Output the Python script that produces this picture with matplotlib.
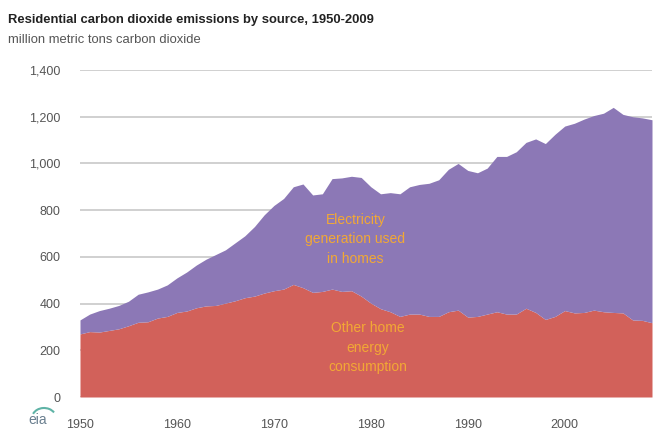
import numpy as np
import matplotlib
matplotlib.use("Agg")
import matplotlib.pyplot as plt
from matplotlib.patches import Arc
from matplotlib.ticker import FuncFormatter

# Werte (Mio. t CO2)
years = list(range(1950, 2010))

other_home = [
    270, 280, 278, 285, 292, 305, 320, 322, 338, 345,
    362, 368, 382, 390, 392, 402, 412, 425, 432, 445,
    455, 462, 482, 468, 448, 452, 462, 452, 455, 432,
    402, 378, 365, 345, 355, 355, 345, 345, 365, 372,
    342, 345, 355, 365, 355, 355, 380, 362, 332, 345,
    370, 360, 362, 372, 365, 362, 360, 330, 328, 318,
]

total = [
    330, 355, 370, 380, 392, 410, 440, 450, 462, 480,
    510, 535, 565, 590, 610, 630, 660, 690, 730, 780,
    820, 850, 900, 912, 865, 870, 935, 938, 945, 940,
    900, 870, 875, 870, 900, 910, 915, 930, 975, 1000,
    970, 960, 980, 1030, 1030, 1050, 1090, 1105, 1085, 1125,
    1160, 1172, 1190, 1205, 1215, 1240, 1210, 1200, 1195, 1187,
]

y_ticks = [0, 200, 400, 600, 800, 1000, 1200, 1400]
x_ticks = [1950, 1960, 1970, 1980, 1990, 2000]

PURPLE = "#8c78b6"
RED = "#d2615a"
LABEL = "#f2a835"
GRAY = "#555555"

plt.rcParams["font.family"] = ["Liberation Sans", "DejaVu Sans"]

fig = plt.figure(figsize=(6.55, 4.32), dpi=100)
ax = fig.add_axes([80 / 655, 1 - 397 / 432, 572 / 655, 327 / 432])

ax.fill_between(years, 0, other_home, color=RED, linewidth=0, zorder=3)
ax.fill_between(years, other_home, total, color=PURPLE, linewidth=0, zorder=3)

ax.set_xlim(1950, 2009)
ax.set_ylim(0, 1400)
ax.set_yticks(y_ticks)
ax.set_xticks(x_ticks)
ax.yaxis.set_major_formatter(FuncFormatter(lambda v, p: f"{int(v):,}"))
ax.grid(axis="y", color="#c8c8c8", linewidth=1.2, zorder=1)
ax.tick_params(axis="both", length=0, labelsize=9, colors=GRAY)
ax.tick_params(axis="y", pad=14)
ax.tick_params(axis="x", pad=16)
for s in ax.spines.values():
    s.set_visible(False)

ax.text(1978.4, 675, "Electricity\ngeneration used\nin homes", ha="center", va="center",
        color=LABEL, fontsize=10, linespacing=1.5, zorder=4)
ax.text(1979.7, 210, "Other home\nenergy\nconsumption", ha="center", va="center",
        color=LABEL, fontsize=10, linespacing=1.5, zorder=4)

fig.text(8 / 655, 1 - 20 / 432, "Residential carbon dioxide emissions by source, 1950-2009",
         fontsize=9.4, fontweight="bold", color="#222222", va="center")
fig.text(8 / 655, 1 - 40 / 432, "million metric tons carbon dioxide",
         fontsize=9.4, color=GRAY, va="center")

# eia-Logo unten links
fig.text(38 / 655, 1 - 420 / 432, "eia", fontsize=10, color="#6a7f8f", va="center",
         ha="center")
fig.add_artist(Arc((44 / 655, 1 - 418 / 432), 24 / 655, 20 / 432, theta1=40, theta2=150,
                   transform=fig.transFigure, color="#5fb3a6", linewidth=1.5))

fig.savefig("out.png", dpi=100)
